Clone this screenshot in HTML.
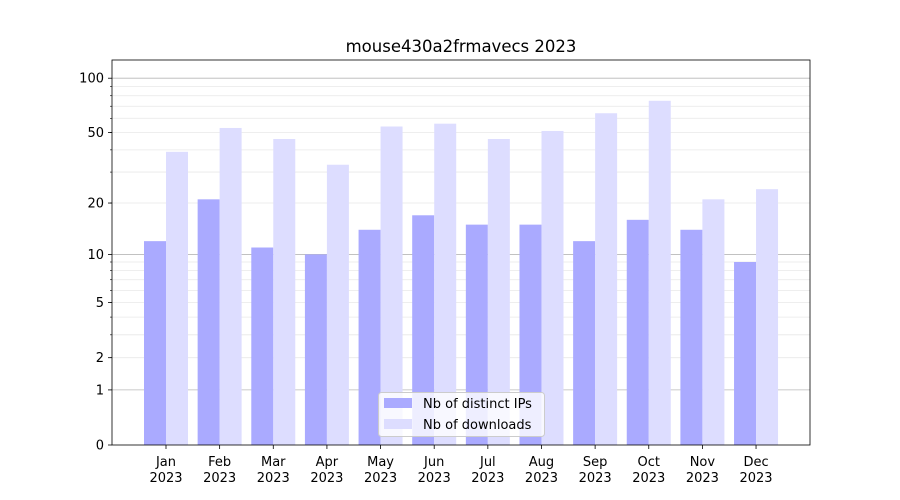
<!DOCTYPE html>
<html><head><meta charset="utf-8"><style>
body{margin:0;background:#fff;}
svg{display:block;font-family:"DejaVu Sans","Liberation Sans",sans-serif;}
</style></head><body>
<svg id="s" width="900" height="500" xmlns="http://www.w3.org/2000/svg"></svg>
<script>
const s=document.getElementById('s');
const Y=v=>445-183*Math.log10(1+v);
let h='<rect width="900" height="500" fill="#fff"/>';
const minors=[2,3,4,5,6,7,8,9,20,30,40,50,60,70,80,90];
minors.forEach(v=>{h+=`<line x1="112" x2="810" y1="${Y(v)}" y2="${Y(v)}" stroke="#e8e8e8" stroke-width="0.8"/>`;});
[1,10,100].forEach(v=>{h+=`<line x1="112" x2="810" y1="${Y(v)}" y2="${Y(v)}" stroke="#b8b8b8" stroke-width="0.8"/>`;});
const ip=[12,21,11,10,14,17,15,15,12,16,14,9];
const dl=[39,53,46,33,54,56,46,51,64,75,21,24];
const m=['Jan','Feb','Mar','Apr','May','Jun','Jul','Aug','Sep','Oct','Nov','Dec'];
for(let i=0;i<12;i++){
 const c=166+i*53.64;
 h+=`<rect x="${c-22}" y="${Y(ip[i])}" width="22" height="${445-Y(ip[i])}" fill="#aaaaff"/>`;
 h+=`<rect x="${c}" y="${Y(dl[i])}" width="22" height="${445-Y(dl[i])}" fill="#ddddff"/>`;
 h+=`<line x1="${c}" x2="${c}" y1="445" y2="449" stroke="#000" stroke-width="0.8"/>`;
 h+=`<text x="${c}" y="466" font-size="13" text-anchor="middle">${m[i]}</text><text x="${c}" y="482" font-size="13" text-anchor="middle">2023</text>`;
}
[0,1,2,5,10,20,50,100].forEach(v=>{const y=Y(v);
 h+=`<line x1="108" x2="112" y1="${y}" y2="${y}" stroke="#000" stroke-width="0.8"/>`;
 h+=`<text x="104" y="${y+4.5}" font-size="13" text-anchor="end">${v}</text>`;});
minors.forEach(v=>{h+=`<line x1="110" x2="112" y1="${Y(v)}" y2="${Y(v)}" stroke="#000" stroke-width="0.6"/>`;});
h+=`<rect x="112" y="60" width="698" height="385" fill="none" stroke="#000" stroke-width="0.8"/>`;
h+=`<text x="461" y="52" font-size="16.5" text-anchor="middle">mouse430a2frmavecs 2023</text>`;
h+=`<rect x="378.5" y="392.5" width="166" height="44" rx="3" fill="#fff" fill-opacity="0.8" stroke="#ccc"/>`;
h+=`<rect x="384" y="398" width="28" height="10" fill="#aaaaff"/><text x="423" y="408" font-size="13">Nb of distinct IPs</text>`;
h+=`<rect x="384" y="419" width="28" height="10" fill="#ddddff"/><text x="423" y="429" font-size="13">Nb of downloads</text>`;
s.innerHTML=h;
</script>
</body></html>
